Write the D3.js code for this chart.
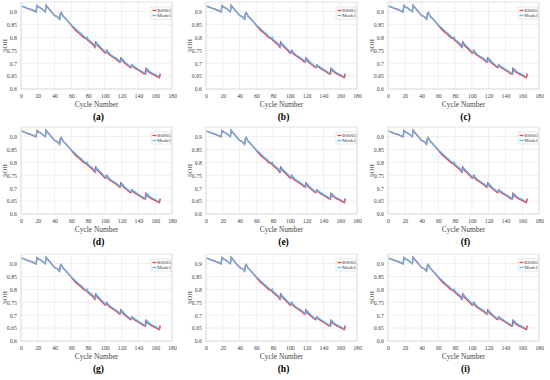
<!DOCTYPE html>
<html><head><meta charset="utf-8">
<script src="https://cdn.jsdelivr.net/npm/d3@7"></script>
<style>body{margin:0;background:#fff}svg{display:block}</style>
</head><body>
<script>
const panelLabels = ["(a)","(b)","(c)","(d)","(e)","(f)","(g)","(h)","(i)"];
const seriesNames = ["B0005","Model"];
const xTicks = [0,20,40,60,80,100,120,140,160,180];
const yTicks = [0.6,0.65,0.7,0.75,0.8,0.85,0.9];
const yTickLabels = ["0.6","0.65","0.7","0.75","0.8","0.85","0.9"];

const dataCycle = [1,3,5,8,11,14,17,18,19,21,24,27,29,30,32,34,36,38,40,42,44,45,46,47,48,50,53,56,59,62,65,68,71,74,76,77,78,79,81,84,86,88,89,90,92,95,98,100,101,102,103,105,108,111,114,117,118,119,120,122,125,128,130,131,132,133,136,140,143,146,148,149,150,152,155,158,161,164,165,166];
const dataSOH = [0.921,0.918,0.916,0.912,0.909,0.905,0.900,0.899,0.923,0.918,0.912,0.905,0.900,0.924,0.916,0.908,0.900,0.892,0.885,0.882,0.878,0.873,0.870,0.892,0.896,0.883,0.873,0.862,0.851,0.839,0.828,0.819,0.811,0.802,0.797,0.796,0.798,0.791,0.785,0.777,0.771,0.762,0.780,0.775,0.767,0.757,0.747,0.740,0.739,0.748,0.742,0.734,0.727,0.721,0.714,0.705,0.704,0.719,0.715,0.706,0.697,0.689,0.684,0.683,0.692,0.688,0.681,0.673,0.667,0.660,0.658,0.679,0.675,0.667,0.661,0.656,0.651,0.645,0.644,0.660];

const modelCycle = [1,3,5,8,11,14,17,18,19,21,24,27,29,30,32,34,36,38,40,42,44,45,46,47,48,50,53,56,59,61,63,66,69,72,75,77,78,79,80,82,85,87,89,90,91,93,96,99,101,102,103,104,106,109,112,115,118,119,120,121,123,126,129,131,132,133,134,137,141,144,147,149,150,151,153,156,159,162,165];
const modelSOH = [0.921,0.918,0.916,0.912,0.909,0.905,0.900,0.899,0.923,0.918,0.912,0.905,0.900,0.924,0.916,0.908,0.900,0.892,0.885,0.882,0.878,0.873,0.870,0.892,0.896,0.883,0.873,0.862,0.851,0.845,0.840,0.831,0.822,0.814,0.805,0.799,0.798,0.801,0.793,0.787,0.779,0.773,0.764,0.781,0.776,0.769,0.759,0.749,0.742,0.741,0.749,0.744,0.736,0.729,0.723,0.716,0.707,0.706,0.720,0.717,0.708,0.699,0.691,0.686,0.685,0.693,0.690,0.683,0.675,0.669,0.662,0.660,0.680,0.677,0.669,0.663,0.658,0.653,0.646];

const colors = {"B0005":"#ee4348","Model":"#55bdf7"};

const W = 550, H = 380;
const svg = d3.select("body").append("svg").attr("width",W).attr("height",H);
const colX = [21, 206, 388];
const rowY = [2, 127, 254];
const pw = 151, ph = 87;
const font = "Liberation Serif, Times New Roman, serif";

const x = d3.scaleLinear().domain([0,180]).range([0,pw]);
const y = d3.scaleLinear().domain([0.6,0.937]).range([ph,0]);

const dataPts = dataCycle.map((c,i)=>[c,dataSOH[i]]);
const modelPts = modelCycle.map((c,i)=>[c,modelSOH[i]]);
const line = d3.line().x(d=>x(d[0])).y(d=>y(d[1]));

panelLabels.forEach((lab,k)=>{
  const r = Math.floor(k/3), c = k%3;
  const g = svg.append("g").attr("transform",`translate(${colX[c]},${rowY[r]})`);
  g.append("g").selectAll("line").data(xTicks).join("line")
    .attr("x1",d=>x(d)).attr("x2",d=>x(d)).attr("y1",0).attr("y2",ph)
    .attr("stroke","#e4e4e4").attr("stroke-width",0.6);
  g.append("g").selectAll("line").data(yTicks).join("line")
    .attr("y1",d=>y(d)).attr("y2",d=>y(d)).attr("x1",0).attr("x2",pw)
    .attr("stroke","#e4e4e4").attr("stroke-width",0.6);
  g.append("rect").attr("width",pw).attr("height",ph).attr("fill","none")
    .attr("stroke","#d0d0d0").attr("stroke-width",0.6);
  const xa = g.append("g").attr("transform",`translate(0,${ph})`)
    .call(d3.axisBottom(x).tickValues(xTicks).tickSize(0).tickPadding(5));
  const ya = g.append("g")
    .call(d3.axisLeft(y).tickValues(yTicks).tickFormat((d,i)=>yTickLabels[i]).tickSize(0).tickPadding(4));
  [xa,ya].forEach(a=>{
    a.select(".domain").remove();
    a.selectAll("text").attr("font-family",font).attr("font-size",5.8).attr("fill","#444");
  });
  const clip = "clip"+k;
  g.append("clipPath").attr("id",clip).append("rect").attr("width",pw).attr("height",ph);
  const lg = g.append("g").attr("clip-path",`url(#${clip})`);
  lg.append("path").datum(dataPts).attr("d",line).attr("fill","none")
    .attr("stroke",colors["B0005"]).attr("stroke-width",1.5);
  lg.append("path").datum(modelPts).attr("d",line).attr("fill","none")
    .attr("stroke",colors["Model"]).attr("stroke-width",1.2);
  const lgd = g.append("g").attr("transform",`translate(${pw-21},5)`);
  lgd.append("rect").attr("width",20).attr("height",12).attr("fill","#fff")
    .attr("stroke","#cfcfcf").attr("stroke-width",0.5);
  seriesNames.forEach((n,i)=>{
    lgd.append("line").attr("x1",1.5).attr("x2",5.5).attr("y1",3.5+i*5).attr("y2",3.5+i*5)
      .attr("stroke",colors[n]).attr("stroke-width",1.4);
    lgd.append("text").attr("x",6.3).attr("y",5.3+i*5).text(n)
      .attr("font-family",font).attr("font-size",5).attr("fill","#333");
  });
  g.append("text").attr("x",pw/2).attr("y",ph+18).attr("text-anchor","middle")
    .attr("font-family",font).attr("font-size",7.4).attr("fill","#444").text("Cycle Number");
  g.append("text").attr("transform",`translate(-14,${ph/2}) rotate(-90)`).attr("text-anchor","middle")
    .attr("font-family",font).attr("font-size",6.5).attr("fill","#444").text("SOH");
  g.append("text").attr("x",pw/2+2).attr("y",ph+31).attr("text-anchor","middle")
    .attr("font-family",font).attr("font-size",9.5).attr("font-weight","bold").attr("fill","#000").text(lab);
});
</script>
</body></html>
